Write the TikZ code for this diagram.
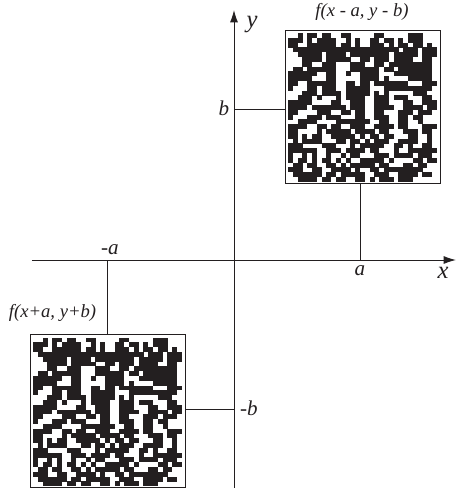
\documentclass[tikz,border=0pt]{standalone}
\usepackage{fontspec}
\setmainfont{Liberation Serif}
\usetikzlibrary{arrows.meta,positioning,calc}
\definecolor{InkGray}{RGB}{35,31,32}
\tikzset{
  imgbox/.style={draw=InkGray,line width=0.5pt,minimum width=3.1cm,minimum height=3.06cm,
    inner sep=0pt,outer sep=0pt},
  axis/.style={draw=InkGray,line width=0.5pt},
  guide/.style={draw=InkGray,line width=0.4pt},
  axlabel/.style={font=\itshape\fontsize{14}{14}\selectfont,text=InkGray,inner sep=0pt},
  funlabel/.style={font=\itshape\fontsize{10.6}{11}\selectfont,text=InkGray,inner sep=0pt},
  ticklabel/.style={font=\itshape\fontsize{12}{12}\selectfont,text=InkGray,inner sep=0pt}
}
\newcommand{\noiserow}[2]{%
  \foreach \cl in {#2}{\fill[InkGray] (\cl,#1) rectangle +(1.03,1.03);}%
}
% black cells of the noise image, row by row
\newcommand{\noisecells}[1]{%
  \begin{scope}[shift={#1},x=0.096cm,y=-0.096cm]
    \noiserow{0}{2,4,5,7,8,11,12,18,19,25,26,27}
    \noiserow{1}{0,1,2,4,6,7,8,9,12,14,17,18,20,21,23,25,26,27}
    \noiserow{2}{0,1,4,5,6,7,8,9,11,12,14,17,18,19,21,23,24,26,27,29}
    \noiserow{3}{1,2,3,4,5,6,7,8,9,10,11,12,13,14,15,16,17,18,19,20,21,22,24,25,26,28,29,30}
    \noiserow{4}{2,3,4,5,6,8,9,10,11,13,14,15,16,17,18,19,20,22,23,24,25,26,28,29,30}
    \noiserow{5}{3,4,5,6,8,9,10,11,12,15,16,18,19,20,22,23,24,25,28,29}
    \noiserow{6}{3,4,7,8,9,13,14,15,18,19,21,22,23,24,25,26,27,28,29}
    \noiserow{7}{1,2,4,5,6,7,8,9,13,14,15,16,17,18,20,21,23,24,25,26,27,28,29}
    \noiserow{8}{0,1,2,3,4,5,8,9,12,15,16,17,18,22,23,24,25,26,27,28,29}
    \noiserow{9}{0,1,2,3,4,8,9,15,16,17,18,20,25,26,27,28,29}
    \noiserow{10}{0,1,4,5,6,7,8,9,12,13,15,16,18,19,20,21,22,23,24,28,29,30}
    \noiserow{11}{0,4,5,7,8,9,12,13,14,15,16,20,21,22,23,24,25,26,27,28,29}
    \noiserow{12}{3,4,5,7,8,9,10,12,13,14,15,16,18,20,26,27,28}
    \noiserow{13}{2,3,4,6,10,12,13,14,15,18,19,20,22,23,24,28,29}
    \noiserow{14}{0,1,2,3,4,9,10,13,14,15,18,19,20,24,25,28,29,30}
    \noiserow{15}{0,1,2,3,5,6,7,8,9,10,11,13,14,15,18,19,20,21,24,25,26,27,29,30}
    \noiserow{16}{0,1,6,7,8,11,12,14,15,18,19,23,24,25,27,28,29}
    \noiserow{17}{0,4,5,6,8,9,10,14,15,18,19,20,23,24,26,27}
    \noiserow{18}{2,3,4,5,10,11,12,13,14,15,16,19,20,23,24,27}
    \noiserow{19}{0,1,2,3,6,7,9,10,13,14,15,18,19,20,21,23,24,28,29,30}
    \noiserow{20}{0,1,6,8,9,10,11,12,14,15,16,17,19,20,24,25,26,28,29}
    \noiserow{21}{0,1,3,5,6,9,10,11,12,13,15,17,18,20,21,25,26,29}
    \noiserow{22}{1,3,4,5,6,10,11,13,14,16,18,19,20,23,24,25,26,29}
    \noiserow{23}{0,1,2,7,8,9,13,15,16,17,18,19,22,23,25,28,29}
    \noiserow{24}{0,1,2,3,4,5,8,9,10,12,13,14,15,17,18,22,25,26,27,28,29,30}
    \noiserow{25}{0,3,5,8,11,13,14,18,19,20,22,23,24,25,27,28,29}
    \noiserow{26}{0,2,3,5,7,8,10,12,15,16,17,18,19,21,26,27,29,30}
    \noiserow{27}{1,2,4,5,8,9,11,13,14,15,16,17,19,20,24,25,27,28}
    \noiserow{28}{0,1,2,5,6,9,10,11,12,14,17,18,20,21,22,23,24,25,26,27}
    \noiserow{29}{1,2,3,4,5,6,8,9,11,12,13,14,15,18,19,20,23,24,25,26,28,29}
    \noiserow{30}{2,3,4,5,7,8,10,11,14,15,17,19,20,21,23,24,25}
  \end{scope}%
}

\begin{document}
\begin{tikzpicture}[x=0.02cm,y=-0.02cm]
\useasboundingbox (0,0) rectangle (457,488);

\coordinate (xl) at (32,260);
\coordinate (xr) at (456,260);
\coordinate (yt) at (234,10);
\coordinate (yb) at (234,488);
\coordinate (ob) at (234,109);
\coordinate (oa) at (360,260);
\coordinate (ona) at (107,260);
\coordinate (onb) at (234,409);

\node[imgbox] (fminus) at (362.5,106.5) {};
\node[imgbox] (fplus) at (107.5,411) {};
\noisecells{($(fminus.north west)+(3,3)$)}
\noisecells{($(fplus.north west)+(3,3)$)}

\draw[axis,-{Latex[length=7pt,width=4.5pt]}] (xl) -- (xr);
\draw[axis,-{Latex[length=7pt,width=4.5pt]}] (yb) -- (yt);

\draw[guide] (ob) -- (ob -| fminus.west);
\draw[guide] (oa) -- (oa |- fminus.south);
\draw[guide] (ona) -- (ona |- fplus.north);
\draw[guide] (onb) -- (onb -| fplus.east);

\node[axlabel] (ylab) at (252,25) {y};
\node[axlabel] (xlab) at (443,273) {x};
\node[ticklabel] (blab) at (224,108) {b};
\node[ticklabel] (alab) at (360,271) {a};
\node[ticklabel] (nalab) at (110,250) {-a};
\node[ticklabel] (nblab) at (249,408) {-b};
\node[funlabel] (ftop) at (362,12) {f(x - a, y - b)};
\node[funlabel] (fbot) at (52.5,313) {f(x+a, y+b)};

\end{tikzpicture}
\end{document}
